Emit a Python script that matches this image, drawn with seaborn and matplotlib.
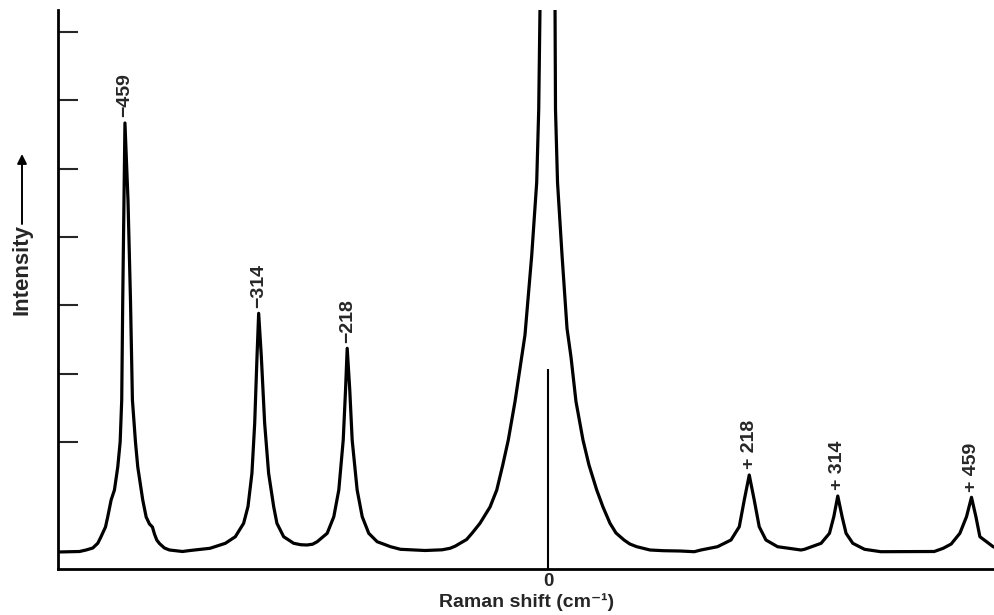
import matplotlib
matplotlib.use("Agg")
import matplotlib.pyplot as plt
import seaborn as sns

# ---------------- data ----------------
# Raman shift (cm^-1) and intensity (arbitrary units, baseline = 0)
shift = [
    -531.6, -508.3, -501.1, -493.9, -488.5, -485.6, -480.1, -477.7, -474.0, -470.4,
    -466.8, -464.2, -462.5, -461.4, -460.1, -459.0,
    -455.7, -453.0, -450.9, -447.6, -445.1, -441.4, -439.7, -436.0, -432.4, -429.2,
    -427.0, -424.5, -421.6, -416.2, -410.7, -396.6,
    -388.4, -366.8,
    -350.1, -339.3, -330.3, -325.6, -321.3, -318.3, -315.8, -314.0, -311.1, -307.5,
    -303.2, -297.7, -294.2, -286.9, -276.0, -268.5,
    -261.6, -255.5,
    -250.5, -239.7, -232.5, -227.1, -222.3, -219.8, -218.0, -215.2, -212.6, -207.2,
    -201.7, -194.6, -185.5, -171.0, -160.2,
    -133.6, -115.0, -106.5, -101.0, -95.6, -88.5, -82.4, -74.0, -63.1, -55.8, -49.3,
    -43.3, -36.0, -28.7, -25.2, -17.9, -12.5,
    -10.3, -8.9, -7.3, 0.0, 6.3, 7.4, 7.9, 10.1, 15.0, 20.4, 24.7, 30.1, 37.7, 44.2,
    52.6, 59.4, 67.0, 73.5, 82.2, 88.5, 96.0, 110.4, 125.0, 142.9,
    158.4, 165.6, 183.6, 198.2, 207.2, 212.6, 218.0, 223.4, 228.8, 236.1, 248.7, 274.1,
    277.9, 295.9, 305.0, 309.7, 314.0, 318.7, 323.0, 330.3, 343.0, 360.6,
    418.6, 428.3, 437.0, 446.4, 453.6, 459.0, 463.8, 468.1, 475.3, 482.5, 486.0,
]
intensity = [
    0, 0.5, 2, 4, 8.7, 14, 25, 35, 52, 62,
    85, 110, 152, 252, 352, 429,
    352, 252, 152, 110, 85, 62, 52, 35, 28, 25,
    18, 12, 8.5, 4, 2, 0.5,
    1.5, 3.7,
    8.7, 15.3, 28.7, 45.3, 78.7, 128.7, 195.3, 238.7, 195.3, 128.7,
    78.7, 45.3, 28.7, 15.3, 8.7, 7.3,
    7, 7.8,
    10.3, 18.7, 35.3, 62, 112, 162, 203.7, 162, 112, 62,
    35.3, 18.7, 10.3, 5.3, 2.7,
    1.5, 2.2, 3.7, 5.8, 8.7, 12.5, 19, 28.7, 45, 62, 87,
    112, 150.5, 195, 217, 296.5, 369.5,
    442.5, 542, 700, 1000, 700, 542, 442.5, 369.5, 296.5, 223.5, 195, 150.5, 112, 87,
    62, 45, 28.7, 19, 12, 8, 5.3, 2, 1.3, 1,
    0.3, 2, 5.3, 12, 25.3, 52, 77, 52, 25.3, 12, 5.3, 2,
    2.7, 8.7, 18.7, 35.3, 56, 35.3, 18.7, 8.7, 2.7, 0.3,
    0.5, 3.7, 8, 18.7, 35.3, 54.7, 35.3, 15.3, 10.3, 5.3, 4,
]

peak_shift = [-459, -314, -218, 218, 314, 459]
peak_height = [429, 238.7, 203.7, 77, 56, 54.7]
peak_label = ["\u2212459", "\u2212314", "\u2212218", "+ 218", "+ 314", "+ 459"]

# marker line at the exciting line position
ref_line_x = 0
ref_line_top = 183

ytick_pos = [110, 178.3, 246.7, 315, 383.3, 451.7, 520]
xtick_pos = [0]
xtick_lab = ["0"]

# ---------------- style ----------------
sns.set_style("white")
plt.rcParams["font.family"] = ["Liberation Sans", "DejaVu Sans"]

fig = plt.figure(figsize=(9.95, 6.15), dpi=100)
ax = fig.add_axes([58 / 995, 46 / 615, 937 / 995, 559 / 615])

sns.lineplot(x=shift, y=intensity, ax=ax, color="black", lw=2.3,
             sort=False, estimator=None)

ax.set_xlim(-531.6, 484.5)
ax.set_ylim(-17, 542)

ymin = ax.get_ylim()[0]
ax.vlines(ref_line_x, ymin, ref_line_top, color="black", lw=1.5)

for xs, hs, lab in zip(peak_shift, peak_height, peak_label):
    ax.annotate(lab, xy=(xs, hs), xytext=(0, 4), textcoords="offset points",
                rotation=90, ha="center", va="bottom", fontsize=14,
                fontweight="bold")

ax.set_yticks(ytick_pos)
ax.tick_params(axis="y", direction="in", length=14.5, width=1.5,
               labelleft=False, left=True)
ax.set_xticks(xtick_pos)
ax.set_xticklabels(xtick_lab, fontsize=13.5, fontweight="bold")
ax.tick_params(axis="x", length=0, pad=3)

for s in ["top", "right"]:
    ax.spines[s].set_visible(False)
for s in ["left", "bottom"]:
    ax.spines[s].set_linewidth(2.0)
    ax.spines[s].set_color("black")

ax.set_xlabel("Raman shift (cm\u207b\u00b9)", fontsize=14,
              fontweight="bold", labelpad=2)
ax.set_ylabel("")

fig.text(22 / 995, 1 - 270 / 615, "Intensity", rotation=90, ha="center",
         va="center", fontsize=16, fontweight="bold")
ax.annotate("", xy=(22 / 995, 1 - 154 / 615), xytext=(22 / 995, 1 - 224 / 615),
            xycoords="figure fraction", textcoords="figure fraction",
            arrowprops=dict(arrowstyle="-|>", lw=1.4, color="black",
                            mutation_scale=14, shrinkA=0, shrinkB=0))

fig.savefig("out.png", dpi=100, facecolor="white")
